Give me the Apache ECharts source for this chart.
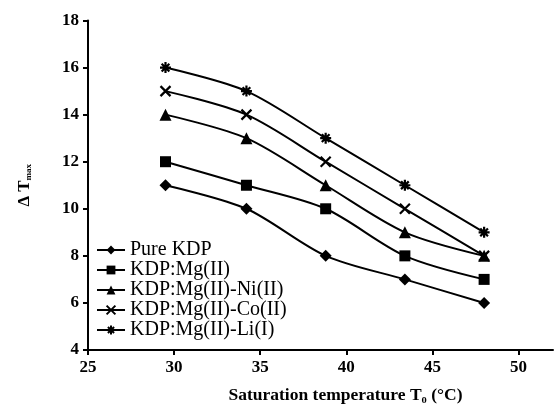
<!DOCTYPE html>
<html>
<head>
<meta charset="utf-8">
<script src="https://cdn.jsdelivr.net/npm/echarts@6/dist/echarts.min.js"></script>
<style>
  html, body { margin: 0; padding: 0; background: #fff; }
  #chart { width: 555px; height: 409px; }
</style>
</head>
<body>
<div id="chart"></div>
<script>
// saturation temperatures (x) and ΔT_max for each sample
const temps = [29.5, 34.2, 38.8, 43.4, 48.0];
const pureKDP = [11, 10, 8, 7, 6];
const kdpMg = [12, 11, 10, 8, 7];
const kdpMgNi = [14, 13, 11, 9, 8];
const kdpMgCo = [15, 14, 12, 10, 8];
const kdpMgLi = [16, 15, 13, 11, 9];
const xTicks = [25, 30, 35, 40, 45, 50];

const names = ['Pure KDP', 'KDP:Mg(II)', 'KDP:Mg(II)-Ni(II)', 'KDP:Mg(II)-Co(II)', 'KDP:Mg(II)-Li(I)'];
const values = [pureKDP, kdpMg, kdpMgNi, kdpMgCo, kdpMgLi];
const symbols = [
  'diamond',
  'rect',
  'triangle',
  'path://M0,0L10,10M10,0L0,10',
  'path://M0,5L10,5M5,0L5,10M1.5,1.5L8.5,8.5M8.5,1.5L1.5,8.5'
];
const sizes = [12, 11, 12, 10, 11];

const font = '"Liberation Serif", "Times New Roman", serif';

const chart = echarts.init(document.getElementById('chart'));

const series = names.map((name, i) => ({
  name: name,
  type: 'line',
  smooth: 0.3,
  data: temps.map((t, j) => [t, values[i][j]]),
  symbol: symbols[i],
  symbolSize: sizes[i],
  showAllSymbol: true,
  lineStyle: { color: '#000', width: 2 },
  itemStyle: i >= 3
    ? { color: '#000', borderColor: '#000', borderWidth: 2.2 }
    : { color: '#000', borderWidth: 0 },
  emphasis: { disabled: true }
}));

chart.setOption({
  animation: false,
  backgroundColor: '#fff',
  grid: { left: 88, right: 2, top: 20.5, bottom: 54, containLabel: false },
  legend: {
    orient: 'vertical',
    left: 91,
    top: 235,
    itemWidth: 28,
    itemHeight: 11,
    itemGap: 0,
    data: names,
    textStyle: { fontFamily: font, fontSize: 20, color: '#000', lineHeight: 19 }
  },
  xAxis: {
    type: 'value',
    min: 25,
    max: 52,
    interval: 5,
    name: 'Saturation temperature T\u2080 (\u00b0C)',
    nameLocation: 'middle',
    nameGap: 36,
    nameTextStyle: { fontFamily: font, fontSize: 17.5, fontWeight: 'bold', color: '#000', padding: [0, 0, 0, 50] },
    axisLine: { lineStyle: { color: '#000', width: 2 } },
    axisTick: { show: true, length: 5, lineStyle: { color: '#000', width: 2 }, customValues: xTicks },
    axisLabel: { fontFamily: font, fontSize: 17, fontWeight: 'bold', color: '#000', margin: 9, customValues: xTicks },
    splitLine: { show: false }
  },
  yAxis: {
    type: 'value',
    min: 4,
    max: 18,
    interval: 2,
    name: '{a|\u0394 T}{b|max}',
    nameLocation: 'middle',
    nameGap: 55,
    nameRotate: 90,
    nameTextStyle: {
      rich: {
        a: { fontFamily: font, fontSize: 17, fontWeight: 'bold', color: '#000' },
        b: { fontFamily: font, fontSize: 9, fontWeight: 'bold', color: '#000', padding: [8, 0, 0, 0] }
      }
    },
    axisLine: { show: true, lineStyle: { color: '#000', width: 2 } },
    axisTick: { show: true, length: 5, lineStyle: { color: '#000', width: 2 } },
    axisLabel: { fontFamily: font, fontSize: 17, fontWeight: 'bold', color: '#000', margin: 9 },
    splitLine: { show: false }
  },
  series: series
});
</script>
</body>
</html>
